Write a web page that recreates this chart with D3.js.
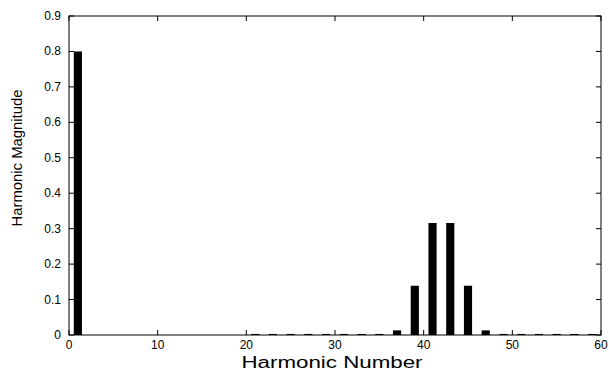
<!DOCTYPE html>
<html><head><meta charset="utf-8">
<script src="https://cdn.jsdelivr.net/npm/d3@7"></script>
<style>body{margin:0;background:#fff}svg{display:block}</style>
</head><body>
<svg id="c" width="609" height="376"></svg>
<script>
const harmonics = [1,3,5,7,9,11,13,15,17,19,21,23,25,27,29,31,33,35,37,39,41,43,45,47,49,51,53,55,57,59];
const magnitudes = [0.8,0,0,0,0,0,0,0,0,0,0.003,0.003,0.003,0.003,0.003,0.003,0.003,0.003,0.013,0.139,0.316,0.316,0.139,0.013,0.003,0.003,0.003,0.003,0.003,0.003];
const xTicks = [0,10,20,30,40,50,60];
const yTicks = [0,0.1,0.2,0.3,0.4,0.5,0.6,0.7,0.8,0.9];
const xLabel = "Harmonic Number";
const yLabel = "Harmonic Magnitude";

const svg = d3.select("#c");
const L = 69, R = 601, T = 16, B = 335;
const x = d3.scaleLinear().domain([0,60]).range([L,R]);
const y = d3.scaleLinear().domain([0,0.9]).range([B,T]);
const font = "'Liberation Sans', Arial, sans-serif";
const bw = 0.92;

svg.append("g").selectAll("rect").data(harmonics.map((h,i)=>({h,v:magnitudes[i]})).filter(d=>d.v>0))
  .join("rect")
  .attr("x", d=>x(d.h-bw/2))
  .attr("width", d=>x(d.h+bw/2)-x(d.h-bw/2))
  .attr("y", d=>y(d.v))
  .attr("height", d=>Math.max(1, y(0)-y(d.v)))
  .attr("fill", "#000");

// box
svg.append("rect").attr("x",L).attr("y",T).attr("width",R-L).attr("height",B-T)
  .attr("fill","none").attr("stroke","#000").attr("stroke-width",1);

const tl = 5;
const gx = svg.append("g");
xTicks.forEach(t=>{
  gx.append("line").attr("x1",x(t)).attr("x2",x(t)).attr("y1",B).attr("y2",B-tl).attr("stroke","#000");
  gx.append("line").attr("x1",x(t)).attr("x2",x(t)).attr("y1",T).attr("y2",T+tl).attr("stroke","#000");
  gx.append("text").attr("x",x(t)).attr("y",B+14).attr("text-anchor","middle")
    .attr("font-family",font).attr("font-size",12).text(d3.format("d")(t));
});
const gy = svg.append("g");
yTicks.forEach(t=>{
  gy.append("line").attr("x1",L).attr("x2",L+tl).attr("y1",y(t)).attr("y2",y(t)).attr("stroke","#000");
  gy.append("line").attr("x1",R).attr("x2",R-tl).attr("y1",y(t)).attr("y2",y(t)).attr("stroke","#000");
  gy.append("text").attr("x",L-8).attr("y",y(t)+4).attr("text-anchor","end")
    .attr("font-family",font).attr("font-size",12).text(t===0?"0":d3.format(".1f")(t));
});
svg.append("text").attr("x",332).attr("y",368).attr("text-anchor","middle")
  .attr("font-family",font).attr("font-size",16)
  .attr("textLength",181).attr("lengthAdjust","spacingAndGlyphs").text(xLabel);
svg.append("text").attr("transform","translate(22,158) rotate(-90)").attr("text-anchor","middle")
  .attr("font-family",font).attr("font-size",14)
  .attr("textLength",137).attr("lengthAdjust","spacingAndGlyphs").text(yLabel);
</script>
</body></html>
